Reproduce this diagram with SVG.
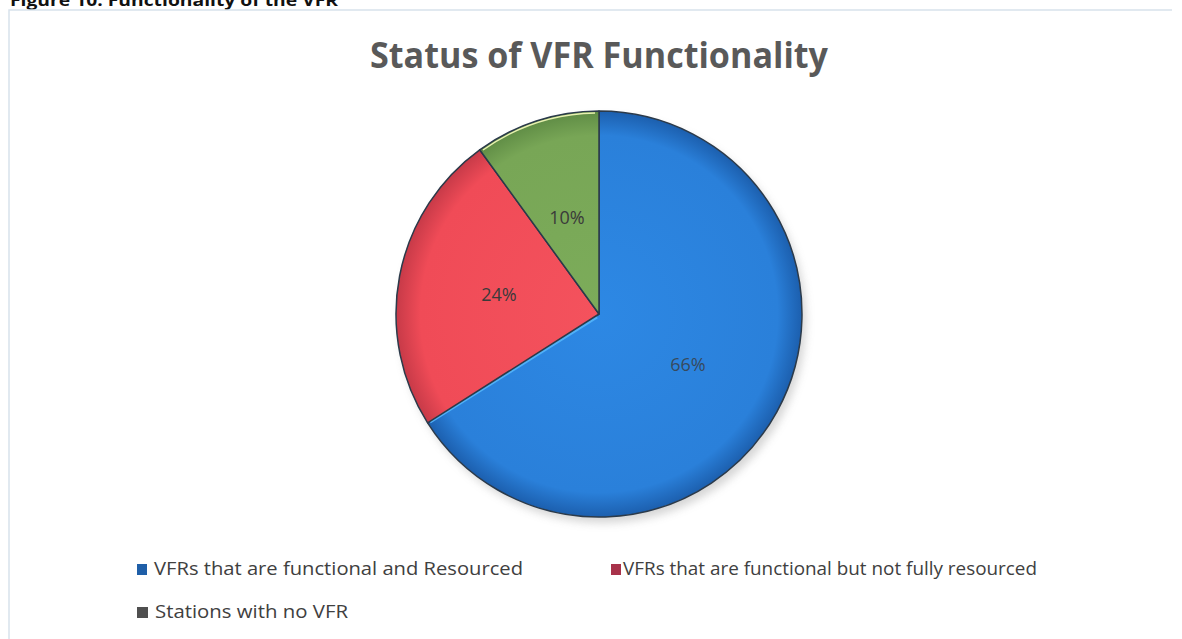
<svg xmlns="http://www.w3.org/2000/svg" width="1182" height="639" viewBox="0 0 1182 639">
  <defs>
    <style>
      .cap{font-family:"Open Sans","Liberation Sans",sans-serif;font-weight:bold;font-size:16px;fill:#111}
      .title{font-family:"Open Sans","Liberation Sans",sans-serif;font-weight:bold;font-size:36px;fill:#595959}
      .pct{font-family:"Open Sans","Liberation Sans",sans-serif;font-size:18px;fill:#3a3a3a;text-anchor:middle}
      .leg{font-family:"Open Sans","Liberation Sans",sans-serif;font-size:19px;fill:#404040}
      .slice{stroke:#2b3a4a;stroke-width:1.5;stroke-linejoin:round}
    </style>
    <radialGradient id="gRed" cx="599" cy="314" r="203" gradientUnits="userSpaceOnUse">
      <stop offset="0" stop-color="#f4525d"/>
      <stop offset="0.88" stop-color="#f04b57"/>
      <stop offset="1" stop-color="#c73a48"/>
    </radialGradient>
    <radialGradient id="gGreen" cx="599" cy="314" r="203" gradientUnits="userSpaceOnUse">
      <stop offset="0" stop-color="#7cac5a"/>
      <stop offset="0.88" stop-color="#78a656"/>
      <stop offset="1" stop-color="#5f8c45"/>
    </radialGradient>
    <radialGradient id="gBlueU" cx="599" cy="314" r="203" gradientUnits="userSpaceOnUse">
      <stop offset="0" stop-color="#2d88e4"/>
      <stop offset="0.88" stop-color="#2a80da"/>
      <stop offset="1" stop-color="#1c5fae"/>
    </radialGradient>
    <filter id="shadow" x="-20%" y="-20%" width="140%" height="140%">
      <feGaussianBlur stdDeviation="4"/>
    </filter>
  </defs>

  <rect width="1182" height="639" fill="#ffffff"/>

  <text class="cap" x="10" y="6" textLength="328" lengthAdjust="spacingAndGlyphs">Figure 10: Functionality of the VFR</text>

  <g id="frame">
    <path d="M9,639 L9,10 L1172,10" fill="none" stroke="#d8e2ec" stroke-width="1.5"/>
  </g>

  <g id="title">
    <text class="title" x="370" y="68" textLength="458" lengthAdjust="spacingAndGlyphs">Status of VFR Functionality</text>
  </g>

  <g id="pie">
    <ellipse cx="603" cy="320" rx="203" ry="203" fill="#8a8a8a" opacity="0.35" filter="url(#shadow)"/>
    <g id="slice-blue">
      <path class="slice" d="M599,314 L599,111 A203,203 0 1,1 427.6,422.8 Z" fill="url(#gBlueU)"/>
      <path d="M597,317 L430,422" stroke="#4fb0f8" stroke-width="3" fill="none"/>
    </g>
    <g id="slice-red">
      <path class="slice" d="M599,314 L427.6,422.8 A203,203 0 0,1 479.7,149.8 Z" fill="url(#gRed)"/>
    </g>
    <g id="slice-green">
      <path class="slice" d="M599,314 L479.7,149.8 A203,203 0 0,1 599,111 Z" fill="url(#gGreen)"/>
      <path d="M483,150 A201,201 0 0,1 595,113" stroke="#e8f0b0" stroke-width="1.5" fill="none"/>
    </g>
  </g>

  <g id="labels">
    <text class="pct" x="567" y="224">10%</text>
    <text class="pct" x="499" y="301">24%</text>
    <text class="pct" x="688" y="371" fill-opacity="0.8">66%</text>
  </g>

  <g id="legend">
    <g id="legend-blue">
      <rect x="137" y="564" width="10" height="11" fill="#1f5fa8"/>
      <text class="leg" x="154" y="575" textLength="369" lengthAdjust="spacingAndGlyphs">VFRs that are functional and Resourced</text>
    </g>
    <g id="legend-red">
      <rect x="611" y="564" width="10" height="11" fill="#a8324a"/>
      <text class="leg" x="623" y="575" textLength="414" lengthAdjust="spacingAndGlyphs">VFRs that are functional but not fully resourced</text>
    </g>
    <g id="legend-green">
      <rect x="137" y="607" width="11" height="11" fill="#4f4f4f"/>
      <text class="leg" x="155" y="618" textLength="193" lengthAdjust="spacingAndGlyphs">Stations with no VFR</text>
    </g>
  </g>
</svg>
